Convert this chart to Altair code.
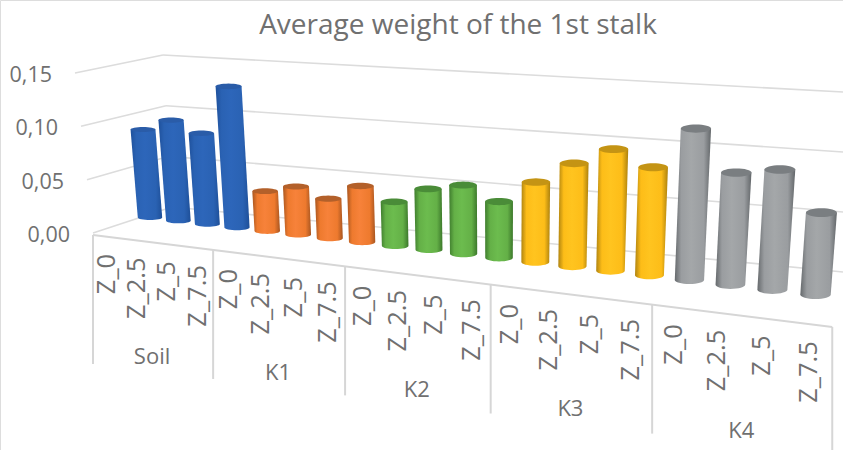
import math
import altair as alt
import pandas as pd

GROUPS = ["Soil", "K1", "K2", "K3", "K4"]
ZONES = ["Z_0", "Z_2.5", "Z_5", "Z_7.5"]
SOIL = [0.083, 0.094, 0.084, 0.129]
K1 = [0.036, 0.043, 0.035, 0.049]
K2 = [0.038, 0.052, 0.058, 0.047]
K3 = [0.066, 0.084, 0.098, 0.086]
K4 = [0.119, 0.087, 0.092, 0.062]
SERIES = [SOIL, K1, K2, K3, K4]
TICKS = [0.0, 0.05, 0.10, 0.15]
TITLE = "Average weight of the 1st stalk"

SHADES = [
    ("#1f519c", "#2d66ba", "#2a62b3", "#1e4f98", "#2a5ca8"),
    ("#a9561f", "#f7823a", "#ee7a2e", "#a85520", "#b3602a"),
    ("#3f7d2e", "#6cbc4e", "#64b047", "#3c782b", "#4a8c38"),
    ("#b08410", "#ffc41f", "#fdbd18", "#ac810e", "#c49414"),
    ("#666a6d", "#a4a7a9", "#9a9da0", "#63676a", "#7a7e81"),
]

TEXT = "#707070"
GRID = "#dcdcdc"
FONT = "Open Sans"

# Perspective projection of the 3-D chart box onto the page
DEPTH = -0.01042      # shrink rate along the category axis, per bar
PX_PER_UNIT = 1060    # screen height of one value unit at the left end
SPREAD_X = 500        # page x where the uprights stand truly vertical
SPREAD_D = 4400       # distance to the vanishing point of the uprights


def depth(i):
    return 1 + DEPTH * i


def bar_geometry(i, v):
    w = depth(i)
    x_base = (150 + 26.53 * i) / w
    ry = 2.5 + 0.1 * i
    y_base = (220 + 1.042 * i) / w - ry
    half = 12.2 / w
    h = PX_PER_UNIT * v / w
    x_top = x_base + (x_base - SPREAD_X) * h / SPREAD_D
    y_top = y_base - h
    return x_base, y_base, x_top, y_top, half, half * (1 + h / SPREAD_D), ry


def front_x(g):
    return (93 + 110.6 * g) / (1 - 0.04476 * g)


def front_y(x):
    return 235 + 0.1245 * (x - 93)


body_rows, cap_rows, tick_rows = [], [], []
i = 0
for g, values in enumerate(SERIES):
    for z, v in enumerate(values):
        xb, yb, xt, yt, hb, ht, ry = bar_geometry(i, v)
        body_rows.append(dict(group=g, bar=f"b{i:02d}", y=yt, x=xt - ht, x2=xt + ht))
        for k in range(0, 9):
            a = math.pi / 2 * k / 8
            body_rows.append(dict(group=g, bar=f"b{i:02d}", y=yb + ry * math.sin(a),
                                  x=xb - hb * math.cos(a), x2=xb + hb * math.cos(a)))
        for k in range(0, 17):
            a = -math.pi / 2 + math.pi * k / 16
            cap_rows.append(dict(group=g, bar=f"b{i:02d}", y=yt + ry * math.sin(a),
                                 x=xt - ht * math.cos(a), x2=xt + ht * math.cos(a),
                                 color=SHADES[g][4]))
        tx = front_x((i + 0.5) / 4)
        tick_rows.append(dict(x=tx, y=front_y(tx) + 17, text=ZONES[z]))
        i += 1

bodies = pd.DataFrame(body_rows)
caps = pd.DataFrame(cap_rows)

xs = alt.Scale(domain=[0, 843], range=[0, 843])
ys = alt.Scale(domain=[0, 450], range=[0, 450])
X = lambda f: alt.X(f, type="quantitative", scale=xs, axis=None)
Y = lambda f: alt.Y(f, type="quantitative", scale=ys, axis=None)

# Wall and floor gridlines
grid_rows, val_rows = [], []
for t in TICKS:
    lx, ly = 93 - 120 * t, 233 - 1067 * t
    cx, cy = 172 - 60 * t, 207 - 1013 * t
    rx, ry_ = 843, 272 - 1200 * t
    grid_rows.append(dict(x=lx, y=ly, x2=cx, y2=cy))
    grid_rows.append(dict(x=cx, y=cy, x2=rx, y2=ry_))
    val_rows.append(dict(x=lx - 23, y=ly + 3, text=f"{t:.2f}".replace(".", ",")))
grid = alt.Chart(pd.DataFrame(grid_rows)).mark_rule(color=GRID, strokeWidth=1.6).encode(
    x=X("x"), x2="x2", y=Y("y"), y2="y2")

# Category axis: front edge, dividers and labels
axis_rows, group_rows = [], []
ends = [front_x(g) for g in range(6)]
axis_rows.append(dict(x=ends[0], y=front_y(ends[0]), x2=ends[5], y2=front_y(ends[5])))
for e in ends:
    axis_rows.append(dict(x=e, y=front_y(e), x2=e, y2=min(front_y(e) + 129, 450)))
for g, name in enumerate(GROUPS):
    mid = (ends[g] + ends[g + 1]) / 2 - 1
    group_rows.append(dict(x=mid, y=front_y(mid) + 115, text=name))
axis = alt.Chart(pd.DataFrame(axis_rows)).mark_rule(color="#d6d6d6", strokeWidth=2).encode(
    x=X("x"), x2="x2", y=Y("y"), y2="y2")

layers = [grid, axis]
for g in range(len(GROUPS)):
    left, light, mid, right, _ = SHADES[g]
    fill = alt.Gradient(
        gradient="linear", x1=0, x2=1, y1=0, y2=0,
        stops=[
            alt.GradientStop(offset=0, color=left),
            alt.GradientStop(offset=0.18, color=mid),
            alt.GradientStop(offset=0.45, color=light),
            alt.GradientStop(offset=0.8, color=mid),
            alt.GradientStop(offset=1, color=right),
        ],
    )
    layers.append(
        alt.Chart(bodies[bodies.group == g]).mark_area(orient="horizontal", color=fill).encode(
            y=Y("y"), x=X("x"), x2="x2", detail="bar:N")
    )
layers.append(
    alt.Chart(caps).mark_area(orient="horizontal").encode(
        y=Y("y"), x=X("x"), x2="x2", detail="bar:N",
        color=alt.Color("color:N", scale=None))
)


def text_layer(rows, **kw):
    return alt.Chart(pd.DataFrame(rows)).mark_text(font=FONT, color=TEXT, **kw).encode(
        x=X("x"), y=Y("y"), text="text:N")


layers.append(text_layer(val_rows, fontSize=21.5, align="right", baseline="middle"))
layers.append(text_layer(tick_rows, fontSize=25.5, angle=270, align="right", baseline="middle"))
layers.append(text_layer(group_rows, fontSize=22, align="center", baseline="middle"))
layers.append(text_layer([dict(x=458, y=26, text=TITLE)], fontSize=28, align="center", baseline="middle"))

chart = alt.layer(*layers).properties(
    width=843, height=450, padding=0, autosize=alt.AutoSizeParams(type="none")
).configure_view(stroke=None).configure(background="white")

chart.save("out.html", embed_options={"renderer": "svg", "actions": False})
